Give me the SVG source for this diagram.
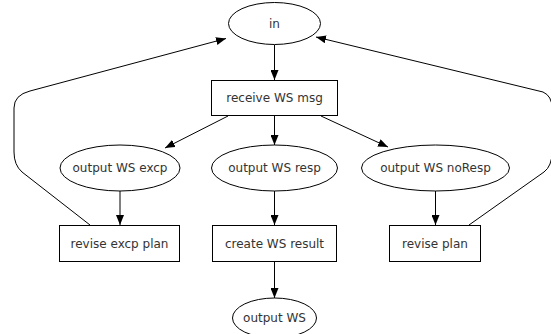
<svg xmlns="http://www.w3.org/2000/svg" width="551" height="334" viewBox="0 0 551 334">
<style>
.n{fill:#fff;stroke:#000;stroke-width:1}
.t{font-family:"DejaVu Sans",Verdana,sans-serif;font-size:12px;fill:#333;text-anchor:middle}
.e{fill:none;stroke:#000;stroke-width:1;marker-end:url(#a)}
</style>
<defs>
<marker id="a" markerWidth="10" markerHeight="8" refX="10" refY="4" orient="auto" markerUnits="userSpaceOnUse">
<path d="M0,0 L10,4 L0,8 Z" fill="#000"/>
</marker>
</defs>
<rect width="551" height="334" fill="#fff"/>
<g id="edges">
<path class="e" d="M274.5,45 L274.5,80"/>
<path class="e" d="M228,116 L165,148"/>
<path class="e" d="M274.5,116 L274.5,145"/>
<path class="e" d="M321,116 L388,147"/>
<path class="e" d="M120,191 L120,225"/>
<path class="e" d="M274.5,191 L274.5,225"/>
<path class="e" d="M435.5,191 L435.5,225"/>
<path class="e" d="M274.5,261 L274.5,298"/>
<path class="e" d="M90,225 L22,172 Q14,165 14,152 L14,108 Q14,95 30,91 L226,38.5"/>
<path class="e" d="M469,225 L544,172 Q552,166 552,152 L552,108 Q552,96 543,92 L316,37"/>
</g>
<g id="in"><ellipse class="n" cx="274.5" cy="23.5" rx="46" ry="21"/><text class="t" x="274.5" y="28">in</text></g>
<g id="receive"><rect class="n" x="211.5" y="80.5" width="126" height="35"/><text class="t" x="274.5" y="102">receive WS msg</text></g>
<g id="excp"><ellipse class="n" cx="120" cy="168" rx="60" ry="23"/><text class="t" x="120" y="172">output WS excp</text></g>
<g id="resp"><ellipse class="n" cx="274.5" cy="168" rx="63" ry="23"/><text class="t" x="274.5" y="172">output WS resp</text></g>
<g id="noresp"><ellipse class="n" cx="435.5" cy="168" rx="74" ry="23"/><text class="t" x="435.5" y="172">output WS noResp</text></g>
<g id="reviseExcp"><rect class="n" x="59.5" y="225.5" width="120" height="36"/><text class="t" x="119.5" y="247.5">revise excp plan</text></g>
<g id="create"><rect class="n" x="212.5" y="225.5" width="124" height="36"/><text class="t" x="274.5" y="247.5">create WS result</text></g>
<g id="revise"><rect class="n" x="389.5" y="225.5" width="91" height="36"/><text class="t" x="435" y="247.5">revise plan</text></g>
<g id="outWS"><ellipse class="n" cx="274.5" cy="318" rx="42" ry="20"/><text class="t" x="274.5" y="322">output WS</text></g>
</svg>
